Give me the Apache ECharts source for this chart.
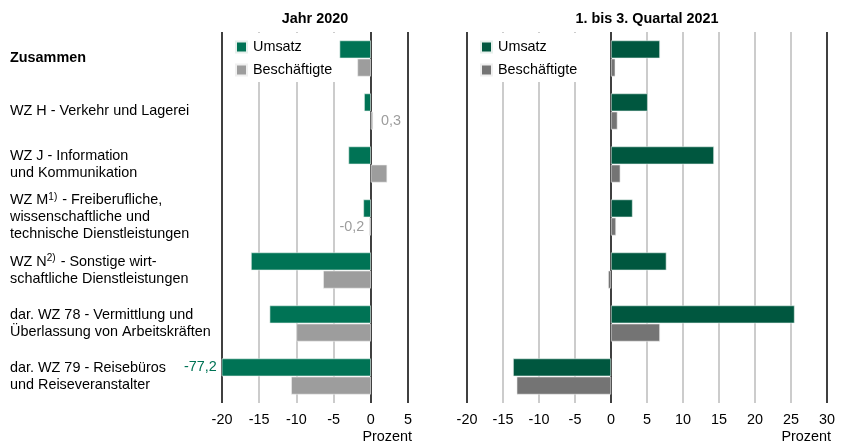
<!DOCTYPE html>
<html>
<head>
<meta charset="utf-8">
<script src="https://cdn.jsdelivr.net/npm/echarts@6/dist/echarts.min.js"></script>
<style>
html,body{margin:0;padding:0;background:#fff;}
#chart{width:842px;height:444px;}
</style>
</head>
<body>
<div id="chart"></div>
<script>
// Kategorien (von oben nach unten)
var categories = [
	'{b|Zusammen}',
	'WZ H - Verkehr und Lagerei',
	'WZ J - Information\nund Kommunikation',
	'WZ M{sup|1)} - Freiberufliche,\nwissenschaftliche und\ntechnische Dienstleistungen',
	'WZ N{sup|2)} - Sonstige wirt-\nschaftliche Dienstleistungen',
	'dar. WZ 78 - Vermittlung und\nÜberlassung von Arbeitskräften',
	'dar. WZ 79 - Reisebüros\nund Reiseveranstalter'
];

// Jahr 2020
var umsatz2020 = [-4.2, -0.9, -3.0, -1.0, -16.1, -13.6, -77.2];
var besch2020 = [-1.8, 0.3, 2.2, -0.2, -6.4, -10.0, -10.7];

// 1. bis 3. Quartal 2021
var umsatz2021 = [6.8, 5.1, 14.3, 3.0, 7.7, 25.5, -13.6];
var besch2021 = [0.6, 0.9, 1.3, 0.7, -0.4, 6.8, -13.1];

var titles = ['Jahr 2020', '1. bis 3. Quartal 2021'];
var achsenName = 'Prozent';

// Werte, die eine Beschriftung bekommen
var labeledUmsatz2020 = [6];
var labeledBesch2020 = [1, 3];

var grün1 = '#007355', grau1 = '#9d9d9d';
var grün2 = '#00573f', grau2 = '#747474';
var fontName = 'Liberation Sans, Arial, sans-serif';
var fs = 14.4;

function fmt(v){
	return String(v).replace('.', ',');
}

function withLabels(values, idx, color){
	var out = [];
	for(var i = 0; i < values.length; i++){
		if(idx.indexOf(i) >= 0){
			out.push({
				value: values[i],
				label: {
					show: true,
					position: values[i] < 0 ? 'left' : 'right',
					distance: values[i] < 0 ? 5 : 8,
					color: color,
					fontFamily: fontName,
					fontSize: fs,
					formatter: function(p){ return fmt(p.value); }
				}
			});
		} else {
			out.push(values[i]);
		}
	}
	return out;
}

var myChart = echarts.init(document.getElementById('chart'));

function xAxisFor(gi, min, max, lineColors){
	return {
		type: 'value',
		gridIndex: gi,
		min: min,
		max: max,
		interval: 5,
		axisLine: {show: false},
		axisTick: {show: false},
		axisLabel: {color: '#000', fontSize: fs, fontFamily: fontName, margin: 10},
		splitLine: {show: true, lineStyle: {color: lineColors, width: 1.5}},
		name: achsenName,
		nameLocation: 'end',
		nameGap: 4,
		nameTextStyle: {color: '#000', fontSize: fs, fontFamily: fontName, align: 'right', verticalAlign: 'top', padding: [27, 0, 0, 0]}
	};
}

function legendFor(names, x){
	return {
		data: names,
		orient: 'vertical',
		left: x, top: 33,
		itemWidth: 11, itemHeight: 11, itemGap: 9,
		backgroundColor: '#fff',
		padding: [7, 4, 5, 6],
		icon: 'rect',
		formatter: function(n){ return n.split(' ')[0]; },
		textStyle: {fontSize: fs, color: '#000', fontFamily: fontName, padding: [0, 0, 0, 1]}
	};
}

var option = {
	backgroundColor: '#fff',
	animation: false,
	textStyle: {fontFamily: fontName},
	title: [
		{text: titles[0], left: 310, top: 7, textAlign: 'center',
			textStyle: {fontSize: fs, fontWeight: 'bold', color: '#000', fontFamily: fontName}},
		{text: titles[1], left: 642, top: 7, textAlign: 'center',
			textStyle: {fontSize: fs, fontWeight: 'bold', color: '#000', fontFamily: fontName}}
	],
	legend: [
		legendFor(['Umsatz 2020', 'Beschäftigte 2020'], 229),
		legendFor(['Umsatz 2021', 'Beschäftigte 2021'], 474)
	],
	grid: [
		{left: 222, right: 434, top: 32, bottom: 41},
		{left: 467, right: 15, top: 32, bottom: 41}
	],
	xAxis: [
		xAxisFor(0, -20, 5, ['#000', '#bbb', '#bbb', '#bbb', '#000', '#000']),
		xAxisFor(1, -20, 30, ['#000', '#bbb', '#bbb', '#bbb', '#000', '#bbb', '#bbb', '#bbb', '#bbb', '#bbb', '#000'])
	],
	yAxis: [
		{
			type: 'category', gridIndex: 0, data: categories, inverse: true,
			axisLine: {show: false}, axisTick: {show: false},
			axisLabel: {
				align: 'left', margin: 212, color: '#000', fontSize: fs, lineHeight: 17, fontFamily: fontName,
				rich: {
					b: {fontWeight: 'bold', fontSize: fs, fontFamily: fontName, color: '#000'},
					sup: {fontSize: 10, verticalAlign: 'top', padding: [0, 1, 6, 0], fontFamily: fontName, color: '#000'}
				}
			}
		},
		{
			type: 'category', gridIndex: 1, data: categories, inverse: true,
			axisLine: {show: false}, axisTick: {show: false}, axisLabel: {show: false}
		}
	],
	series: [
		{
			name: 'Umsatz 2020', type: 'bar', xAxisIndex: 0, yAxisIndex: 0,
			data: withLabels(umsatz2020, labeledUmsatz2020, grün1),
			itemStyle: {color: grün1, borderColor: '#e6f0ec', borderWidth: 0.6},
			barGap: '2%', barCategoryGap: '32%'
		},
		{
			name: 'Beschäftigte 2020', type: 'bar', xAxisIndex: 0, yAxisIndex: 0,
			data: withLabels(besch2020, labeledBesch2020, grau1),
			itemStyle: {color: grau1, borderColor: '#f0f0f0', borderWidth: 0.6},
			barGap: '2%', barCategoryGap: '32%'
		},
		{
			name: 'Umsatz 2021', type: 'bar', xAxisIndex: 1, yAxisIndex: 1,
			data: umsatz2021,
			itemStyle: {color: grün2, borderColor: '#e6f0ec', borderWidth: 0.6},
			barGap: '2%', barCategoryGap: '32%'
		},
		{
			name: 'Beschäftigte 2021', type: 'bar', xAxisIndex: 1, yAxisIndex: 1,
			data: besch2021,
			itemStyle: {color: grau2, borderColor: '#f0f0f0', borderWidth: 0.6},
			barGap: '2%', barCategoryGap: '32%'
		}
	]
};

myChart.setOption(option);
</script>
</body>
</html>
